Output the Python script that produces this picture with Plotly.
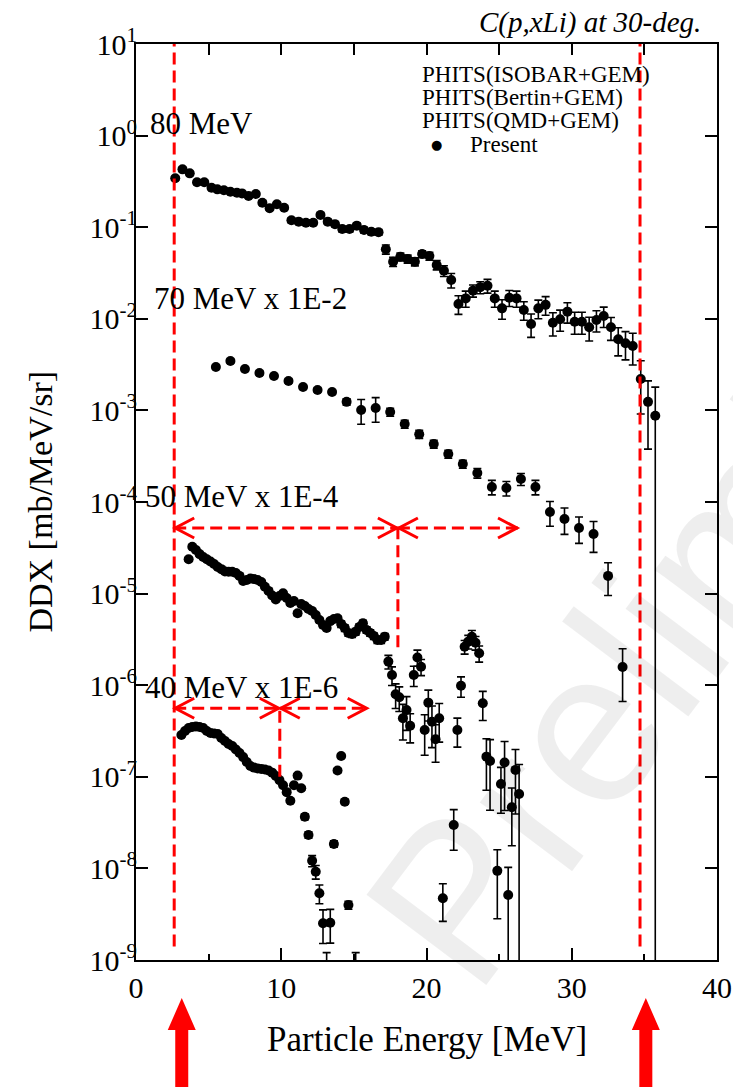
import plotly.graph_objects as go

# ---------------- data ----------------
# 80 MeV (x1)
e80 = [2.7, 3.2, 3.7, 4.2, 4.7, 5.2, 5.6, 6.05, 6.5, 6.95, 7.3, 7.75, 8.25, 8.7, 9.2, 9.7,
       10.2, 10.7, 11.2, 11.7, 12.2, 12.7, 13.2, 13.7, 14.2, 14.7, 15.2, 15.7, 16.2, 16.7,
       17.2, 17.7, 18.2, 18.7, 19.2, 19.7, 20.2, 20.7, 21.2, 21.7, 22.2, 22.7, 23.2, 23.7,
       24.2, 24.7, 25.2, 25.7, 26.2, 26.7, 27.2, 27.7, 28.2, 28.7, 29.2, 29.7, 30.2, 30.7,
       31.2, 31.7, 32.2, 32.7, 33.2, 33.7, 34.2, 34.75, 35.25, 35.75]
y80 = [0.342, 0.428, 0.387, 0.309, 0.309, 0.270, 0.259, 0.253, 0.244, 0.238, 0.234, 0.219,
       0.230, 0.185, 0.161, 0.178, 0.163, 0.119, 0.115, 0.112, 0.112, 0.136, 0.115, 0.108,
       0.0955, 0.0955, 0.104, 0.0931, 0.0893, 0.0880, 0.0574, 0.0420, 0.0476, 0.0450,
       0.0420, 0.0509, 0.0485, 0.0387, 0.0335, 0.0265, 0.0145, 0.0167, 0.0203, 0.0221,
       0.0230, 0.0167, 0.0130, 0.0170, 0.0167, 0.0125, 0.00877, 0.0130, 0.0142, 0.00906,
       0.00988, 0.01197, 0.00930, 0.00930, 0.00807, 0.00970, 0.01073, 0.00807, 0.00597,
       0.00540, 0.00504, 0.00220, 0.00124, 0.000875]
r80 = [0.05, 0.05, 0.05, 0.05, 0.05, 0.05, 0.05, 0.05, 0.05, 0.05, 0.05, 0.05, 0.05, 0.05,
       0.05, 0.05, 0.05, 0.06, 0.06, 0.06, 0.06, 0.06, 0.06, 0.06, 0.07, 0.07, 0.07, 0.07,
       0.07, 0.07, 0.115, 0.115, 0.1, 0.1, 0.1, 0.085, 0.1, 0.115, 0.134, 0.18, 0.23, 0.2,
       0.15, 0.15, 0.17, 0.2, 0.24, 0.2, 0.2, 0.23, 0.285, 0.23, 0.23, 0.285, 0.26, 0.25,
       0.27, 0.27, 0.29, 0.26, 0.25, 0.28, 0.34, 0.34, 0.38, 0.585, 0.695, 1.05]

# 70 MeV (x1E-2)
e70 = [5.5, 6.5, 7.5, 8.5, 9.5, 10.5, 11.5, 12.5, 13.5, 14.5, 15.5, 16.5, 17.5, 18.5, 19.5,
       20.5, 21.5, 22.5, 23.5, 24.5, 25.5, 26.5, 27.5, 28.5, 29.5, 30.5, 31.5, 32.5, 33.5]
y70 = [2.98e-3, 3.46e-3, 2.83e-3, 2.56e-3, 2.37e-3, 2.09e-3, 1.80e-3, 1.67e-3, 1.59e-3,
       1.24e-3, 1.01e-3, 1.06e-3, 9.6e-4, 7.1e-4, 5.5e-4, 4.30e-4, 3.34e-4, 2.60e-4,
       2.07e-4, 1.46e-4, 1.42e-4, 1.78e-4, 1.46e-4, 7.78e-5, 6.52e-5, 5.2e-5, 4.47e-5,
       1.56e-5, 1.58e-6]
r70 = [0.05, 0.05, 0.05, 0.05, 0.05, 0.05, 0.05, 0.05, 0.05, 0.08, 0.3, 0.3, 0.1, 0.1,
       0.1, 0.1, 0.1, 0.1, 0.12, 0.18, 0.18, 0.15, 0.18, 0.3, 0.32, 0.32, 0.37, 0.39, 0.58]

# 50 MeV (x1E-4)
e50 = [3.625, 3.875, 4.125, 4.375, 4.625, 4.875, 5.125, 5.375, 5.625, 5.875, 6.125, 6.375,
       6.625, 6.875, 7.125, 7.375, 7.625, 7.875, 8.125, 8.375, 8.625, 8.875, 9.125, 9.375,
       9.625, 9.875, 10.125, 10.375, 10.625, 10.875, 11.125, 11.375, 11.625, 11.875, 12.125,
       12.375, 12.625, 12.875, 13.125, 13.375, 13.625, 13.875, 14.125, 14.375, 14.625,
       14.875, 15.125, 15.375, 15.625, 15.875, 16.125, 16.375, 16.625, 16.875, 17.125,
       17.375, 17.625, 17.875, 18.125, 18.375, 18.625, 18.875, 19.125, 19.375, 19.625,
       19.875, 20.125, 20.375, 20.625, 20.875, 22.125, 22.375, 22.625, 22.875, 23.125,
       23.375, 23.625, 23.875, 24.125, 24.375, 25.125, 25.375, 25.875, 26.125, 26.375]
y50 = [2.37e-5, 3.25e-5, 2.99e-5, 2.70e-5, 2.51e-5, 2.37e-5, 2.24e-5, 2.10e-5, 1.95e-5,
       1.85e-5, 1.74e-5, 1.73e-5, 1.73e-5, 1.68e-5, 1.56e-5, 1.37e-5, 1.41e-5, 1.46e-5,
       1.44e-5, 1.41e-5, 1.34e-5, 1.19e-5, 1.07e-5, 9.53e-6, 8.63e-6, 9.42e-6, 1.01e-5,
       8.95e-6, 7.89e-6, 8.30e-6, 6.10e-6, 7.69e-6, 7.32e-6, 6.79e-6, 6.46e-6, 5.84e-6,
       5.15e-6, 4.54e-6, 4.21e-6, 5.01e-6, 5.27e-6, 5.37e-6, 4.65e-6, 4.21e-6, 3.72e-6,
       3.62e-6, 3.84e-6, 4.32e-6, 4.74e-6, 4.01e-6, 3.72e-6, 3.44e-6, 3.11e-6, 3.11e-6,
       3.39e-6, 1.81e-6, 1.29e-6, 7.96e-7, 7.38e-7, 4.35e-7, 5.36e-7, 3.61e-7, 1.29e-6,
       2.01e-6, 1.59e-6, 3.24e-7, 6.45e-7, 4.0e-7, 2.57e-7, 4.35e-7, 3.24e-7, 9.86e-7,
       2.63e-6, 2.99e-6, 3.38e-6, 2.91e-6, 2.23e-6, 6.34e-7, 1.66e-7, 1.49e-7, 8.34e-8,
       1.43e-7, 4.65e-8, 1.19e-7, 6.49e-8]
r50 = [0.05] * 30 + [0.06] * 12 + [0.08] * 13 + \
      [0.17, 0.23, 0.3, 0.3, 0.42, 0.4, 0.35, 0.25, 0.2, 0.2, 0.47, 0.37, 0.48, 0.44, 0.45,
       0.35, 0.25, 0.17, 0.17, 0.17, 0.17, 0.2, 0.35, 0.57, 0.71, 0.52, 0.7, 0.62, 0.67, 1.1]

# 40 MeV (x1E-6)
e40 = [3.125, 3.375, 3.625, 3.875, 4.125, 4.375, 4.625, 4.875, 5.125, 5.375, 5.625, 5.875,
       6.125, 6.375, 6.625, 6.875, 7.125, 7.375, 7.625, 7.875, 8.125, 8.375, 8.625, 8.875,
       9.125, 9.375, 9.625, 9.875, 10.125, 10.375, 10.625, 10.875, 11.125, 11.375, 11.625,
       11.875, 12.125, 12.375, 12.625, 12.875, 13.125, 13.375, 13.625, 13.875, 14.125,
       14.375, 14.625, 15.125, 21.125, 21.875, 24.875, 25.625]
y40 = [2.86e-7, 3.16e-7, 3.41e-7, 3.50e-7, 3.54e-7, 3.50e-7, 3.41e-7, 3.16e-7, 3.01e-7,
       2.97e-7, 2.93e-7, 2.65e-7, 2.46e-7, 2.28e-7, 2.17e-7, 1.99e-7, 1.82e-7, 1.64e-7,
       1.45e-7, 1.31e-7, 1.26e-7, 1.23e-7, 1.22e-7, 1.20e-7, 1.17e-7, 1.11e-7, 1.02e-7,
       9.2e-8, 8.1e-8, 6.8e-8, 5.48e-8, 8.1e-8, 1.03e-7, 7.5e-8, 3.66e-8, 2.32e-8, 1.21e-8,
       9.2e-9, 5.35e-9, 2.52e-9, 7.0e-10, 2.55e-9, 1.85e-8, 1.17e-7, 1.69e-7, 5.35e-8,
       3.98e-9, 7.0e-10, 4.72e-9, 2.98e-8, 9.4e-9, 5.13e-9]
r40 = [0.04] * 31 + [0.05, 0.05, 0.05, 0.07, 0.08, 0.14, 0.17, 0.23, 0.4, 0.72, 0.4, 0.08,
       0.05, 0.05, 0.06, 0.1, 0.72, 0.44, 0.47, 0.7, 0.999]

series = [(e80, y80, r80), (e70, y70, r70), (e50, y50, r50), (e40, y40, r40)]

labels = ["80 MeV", "70 MeV x 1E-2", "50 MeV x 1E-4", "40 MeV x 1E-6"]
label_pos = [(0.8, 0.127), (1.1, -1.773), (0.5, -3.945), (0.5, -6.03)]   # (MeV, log10 y)

legend_lines = ["PHITS(ISOBAR+GEM)", "PHITS(Bertin+GEM)", "PHITS(QMD+GEM)"]
title_text = "C(p,xLi) at 30-deg."

ytick_exp = list(range(-9, 2))

# red guide lines
vlines = [(2.63, 1.4e-9, 10.0), (34.7, 1.4e-9, 10.0), (18.03, 2.6e-6, 5.2e-5), (9.9, 1.0e-7, 5.6e-7)]
harrows = [(2.63, 18.03, 5.2e-5), (18.03, 26.3, 5.2e-5), (2.63, 9.9, 5.6e-7), (9.9, 15.95, 5.6e-7)]
thresholds = [3.15, 35.1]

XMAX = 40.0
FONT = "Liberation Serif"
RED = "#ff0000"

fig = go.Figure()
for e, y, r in series:
    fig.add_trace(go.Scatter(
        x=e, y=y, mode="markers",
        marker=dict(color="black", size=10, symbol="circle"),
        error_y=dict(type="data", array=[a * b for a, b in zip(y, r)], visible=True,
                     color="black", thickness=1.6, width=4),
        showlegend=False, cliponaxis=True))

shapes = []
for x, y0, y1 in vlines:
    shapes.append(dict(type="line", xref="x", yref="y", x0=x, x1=x, y0=y0, y1=y1,
                       line=dict(color=RED, width=3, dash="12px,6px"), layer="above"))
for x0, x1, y in harrows:
    shapes.append(dict(type="line", xref="x", yref="y", x0=x0, x1=x1, y0=y, y1=y,
                       line=dict(color=RED, width=3, dash="12px,6px"), layer="above"))
    # arrow heads (pixel-sized chevrons)
    shapes.append(dict(type="path", xref="x", yref="y", xsizemode="pixel", ysizemode="pixel",
                       xanchor=x0, yanchor=y, path="M 20,10 L 1,0 L 20,-10",
                       line=dict(color=RED, width=3)))
    shapes.append(dict(type="path", xref="x", yref="y", xsizemode="pixel", ysizemode="pixel",
                       xanchor=x1, yanchor=y, path="M -20,10 L -1,0 L -20,-10",
                       line=dict(color=RED, width=3)))
for t in thresholds:
    shapes.append(dict(type="path", xref="paper", yref="paper", xsizemode="pixel",
                       ysizemode="pixel", xanchor=t / XMAX, yanchor=0,
                       path="M 0,-38 L 14,-70 L 6.5,-70 L 6.5,-140 L -6.5,-140 L -6.5,-70 L -14,-70 Z",
                       fillcolor=RED, line=dict(width=0)))

ann = []
# watermark
ann.append(dict(text="Preliminary", xref="paper", yref="paper", x=1.045, y=0.482,
                xanchor="center", yanchor="middle",
                showarrow=False, textangle=-53,
                font=dict(family="Liberation Sans", size=218, color="rgba(0,0,0,0.065)")))
for lab, (lx, ly) in zip(labels, label_pos):
    ann.append(dict(text=lab, xref="x", yref="y", x=lx, y=ly, xanchor="left", yanchor="middle",
                    showarrow=False, font=dict(family=FONT, size=31, color="black")))
for i, t in enumerate(legend_lines):
    ann.append(dict(text=t, xref="paper", yref="paper", x=0.489, y=0.967 - i * 0.0255,
                    xanchor="left", yanchor="middle", showarrow=False,
                    font=dict(family=FONT, size=23, color="black")))
ann.append(dict(text="\u25CF", xref="paper", yref="paper", x=0.518, y=0.967 - 3 * 0.0255,
                xanchor="center", yanchor="middle", showarrow=False,
                font=dict(family="DejaVu Sans", size=13, color="black")))
ann.append(dict(text="Present", xref="paper", yref="paper", x=0.571, y=0.967 - 3 * 0.0255,
                xanchor="left", yanchor="middle", showarrow=False,
                font=dict(family=FONT, size=23, color="black")))
ann.append(dict(text="<i>" + title_text + "</i>", xref="paper", yref="paper", x=0.976, y=1.024,
                xanchor="right", yanchor="middle", showarrow=False,
                font=dict(family=FONT, size=29, color="black")))
ann.append(dict(text="Particle Energy [MeV]", xref="paper", yref="paper", x=0.50, y=-0.087,
                xanchor="center", yanchor="middle", showarrow=False,
                font=dict(family=FONT, size=35, color="black")))
ann.append(dict(text="DDX [mb/MeV/sr]", xref="paper", yref="paper", x=-0.166, y=0.5,
                xanchor="center", yanchor="middle", showarrow=False, textangle=-90,
                font=dict(family=FONT, size=34, color="black")))

fig.update_layout(
    width=733, height=1087, autosize=False,
    margin=dict(l=136, r=16, t=44, b=127),
    paper_bgcolor="white", plot_bgcolor="white",
    shapes=shapes, annotations=ann,
    font=dict(family=FONT, size=28, color="black"),
    xaxis2=dict(overlaying="x", side="top", matches="x", range=[0, XMAX], tickmode="linear",
                tick0=0, dtick=5, ticks="inside", ticklen=11, tickwidth=1.5, tickcolor="black",
                showticklabels=False, showline=True, linecolor="black", linewidth=1.8,
                showgrid=False, zeroline=False, automargin=False),
)
# invisible trace to activate the top axis
fig.add_trace(go.Scatter(x=[None], y=[None], xaxis="x2", yaxis="y", showlegend=False,
                         hoverinfo="skip"))
fig.layout.xaxis.update(range=[0, XMAX], tickmode="linear", tick0=0, dtick=10, ticks="inside",
                        ticklen=12, tickwidth=1.5, tickcolor="black",
                        minor=dict(dtick=5, ticks="inside", ticklen=6, tickwidth=1.5,
                                   tickcolor="black"),
                        showline=True, linecolor="black", linewidth=1.8, mirror=False,
                        showgrid=False, zeroline=False, automargin=False,
                        ticklabeloverflow="allow",
                        tickfont=dict(family=FONT, size=30))
fig.update_yaxes(type="log", range=[-9, 1], tickmode="array",
                 tickvals=[10.0 ** k for k in ytick_exp],
                 ticktext=["10<sup>%d</sup>" % k for k in ytick_exp],
                 ticks="inside", ticklen=12, tickwidth=1.5, tickcolor="black",
                 ticklabelstandoff=-9, automargin=False,
                 showline=True, linecolor="black", linewidth=1.8, mirror="ticks",
                 showgrid=False, zeroline=False, tickfont=dict(family=FONT, size=30))

fig.write_html("out.html", config={"responsive": False})
